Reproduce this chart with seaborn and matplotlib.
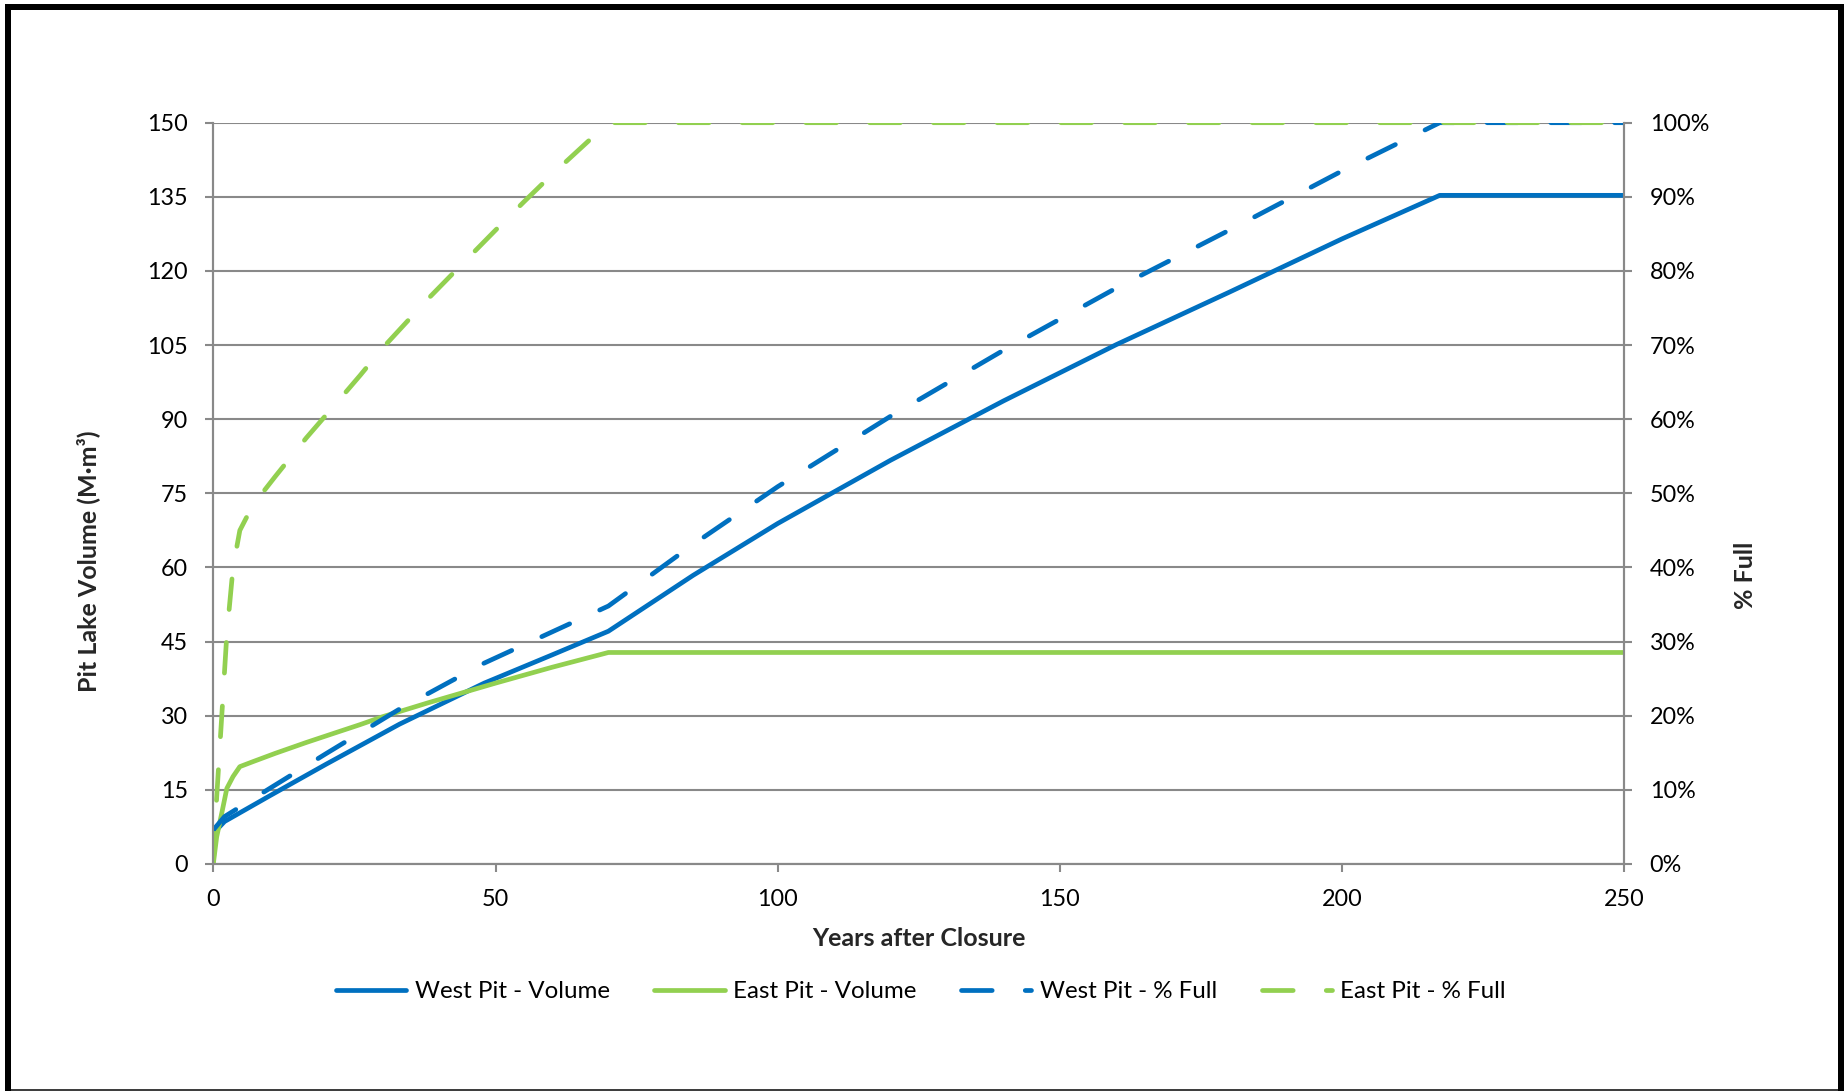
import matplotlib
matplotlib.use("Agg")
import matplotlib.pyplot as plt
import seaborn as sns
from matplotlib.lines import Line2D
from matplotlib.ticker import MultipleLocator, FuncFormatter

# ---------------- data ----------------
west_years = [0, 2, 10, 20, 33, 48, 60, 70, 85, 100, 120, 140, 160, 180, 200, 217.3, 250]
west_volume = [6.2, 8.6, 13.8, 20.2, 28.3, 36.6, 42.3, 47.1, 58.4, 68.9, 81.7, 93.7,
               105.1, 115.7, 126.5, 135.3, 135.3]
west_pct_full = [4.6, 6.4, 10.2, 14.9, 20.9, 27.1, 31.3, 34.8, 43.1, 50.9, 60.4, 69.3,
                 77.7, 85.5, 93.5, 100, 100]

east_years = [0, 0.6, 1.5, 2.4, 3.5, 4.7, 7, 11, 16.5, 21.5, 26, 30, 34, 38, 42.5, 50,
              55, 60, 65, 70, 250]
east_volume = [0, 5.5, 10.3, 15.3, 17.7, 19.7, 20.7, 22.4, 24.6, 26.5, 28.2, 29.8, 31.2,
               32.6, 34.1, 36.6, 38.2, 39.8, 41.3, 42.8, 42.8]
east_pct_full = [0, 9, 20, 31, 40, 45, 48.4, 52.3, 57.5, 61.9, 65.9, 69.6, 72.9, 76.2,
                 79.7, 85.5, 89.3, 93.0, 96.5, 100, 100]

series_labels = ["West Pit - Volume", "East Pit - Volume", "West Pit - % Full", "East Pit - % Full"]
x_label = "Years after Closure"
y_label = "Pit Lake Volume (M\u00b7m\u00b3)"
y2_label = "% Full"

BLUE = "#0070C0"
GREEN = "#92D050"
GRID = "#898989"

# ---------------- style ----------------
sns.set_theme(style="white")
plt.rcParams["font.family"] = ["Lato", "DejaVu Sans"]
plt.rcParams["text.color"] = "black"

W, H = 1844, 1091
fig = plt.figure(figsize=(W / 100, H / 100), dpi=100)
fig.patch.set_facecolor("white")

left, right = 213.3 / W, 1624.3 / W
bottom, top = 1 - 864 / H, 1 - 122.7 / H
ax = fig.add_axes([left, bottom, right - left, top - bottom])
ax2 = ax.twinx()

LW = 3.4
FS = 16.8
FS_LABEL = 18
FS_LEG = 17.4

sns.lineplot(x=west_years, y=west_volume, ax=ax, color=BLUE, linewidth=LW,
             label=series_labels[0], legend=False)
sns.lineplot(x=east_years, y=east_volume, ax=ax, color=GREEN, linewidth=LW,
             label=series_labels[1], legend=False)
sns.lineplot(x=west_years, y=west_pct_full, ax=ax2, color=BLUE, linewidth=LW,
             label=series_labels[2], legend=False, linestyle="--")
sns.lineplot(x=east_years, y=east_pct_full, ax=ax2, color=GREEN, linewidth=LW,
             label=series_labels[3], legend=False, linestyle="--")

for ln in ax.lines:
    ln.set_solid_capstyle("round")
    ln.set_solid_joinstyle("round")
for ln in ax2.lines:
    ln.set_dashes([6.5, 7])
    ln.set_dash_capstyle("round")
    ln.set_dash_joinstyle("round")

ax.set_xlim(0, 250)
ax.set_ylim(0, 150)
ax2.set_ylim(0, 100)
ax.xaxis.set_major_locator(MultipleLocator(50))
ax.yaxis.set_major_locator(MultipleLocator(15))
ax2.yaxis.set_major_locator(MultipleLocator(10))
ax2.yaxis.set_major_formatter(FuncFormatter(lambda v, p: f"{v:.0f}%"))

ax.grid(axis="y", color=GRID, linewidth=1.5)
ax.grid(axis="x", visible=False)
ax2.grid(False)
ax.set_axisbelow(True)

for a in (ax, ax2):
    for s in a.spines.values():
        s.set_color(GRID)
        s.set_linewidth(1.5)
    a.set_facecolor("none")
ax.spines["top"].set_visible(False)
ax2.spines["top"].set_visible(False)

ax.tick_params(axis="both", which="major", direction="out", length=5.8, width=1.5,
               color=GRID, labelsize=FS, pad=12.5, labelcolor="black")
ax.tick_params(left=True, bottom=True)
ax2.tick_params(axis="y", direction="out", length=5.8, width=1.5, color=GRID,
                labelsize=FS, pad=12.5, right=True, labelcolor="black")

ax.set_xlabel(x_label, fontsize=FS_LABEL, fontweight="bold")
ax.set_ylabel(y_label, fontsize=FS_LABEL, fontweight="bold")
ax2.set_ylabel(y2_label, fontsize=FS_LABEL, fontweight="bold", rotation=90)
ax.xaxis.set_label_coords(0.4998, -0.1005)
ax.yaxis.set_label_coords(-0.0888, 0.409)
ax2.yaxis.set_label_coords(1.0859, 0.39)
ax.xaxis.label.set_va("center")
ax.yaxis.label.set_va("center")
ax2.yaxis.label.set_va("center")

handles = ax.lines[:2] + ax2.lines[:2]
leg = fig.legend(handles, series_labels, loc="center",
                 bbox_to_anchor=(921 / W, 1 - 991.5 / H), ncol=4, frameon=False,
                 fontsize=FS_LEG, handlelength=2.9, handletextpad=0.35,
                 columnspacing=1.85)

# outer border (thick left/top/right, thin bottom)
def px_line(x0, y0, x1, y1, lw_px):
    fig.add_artist(Line2D([x0 / W, x1 / W], [1 - y0 / H, 1 - y1 / H],
                          transform=fig.transFigure, color="black",
                          linewidth=lw_px * 0.72, solid_capstyle="butt"))

px_line(8, 4, 8, 1091, 6)
px_line(5, 7, 1844, 7, 6)
px_line(1840.5, 4, 1840.5, 1091, 7)
px_line(5, 1089.5, 1844, 1089.5, 1.5)

fig.savefig("out.png", dpi=100, facecolor="white")
